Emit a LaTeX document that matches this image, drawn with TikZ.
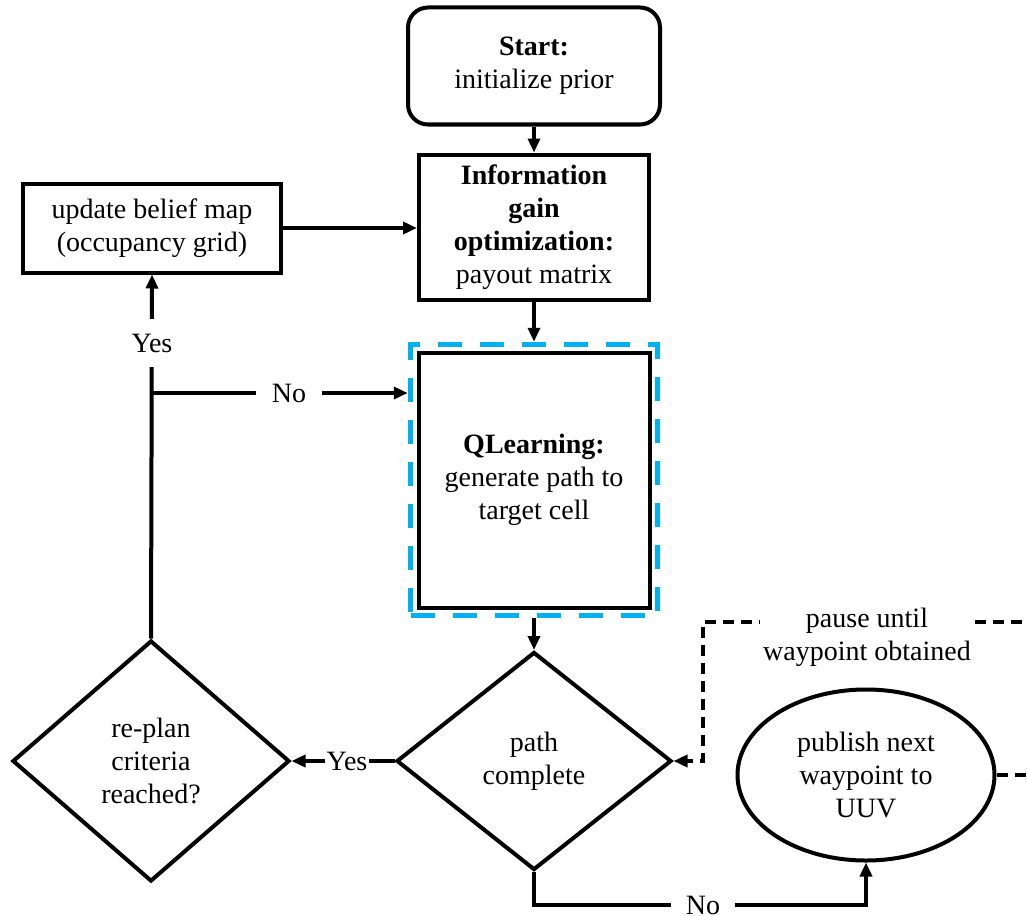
\documentclass[tikz,border=0pt]{standalone}
\usepackage{fontspec}
\setmainfont{Liberation Serif}
\usetikzlibrary{shapes.geometric,arrows.meta,fit}
\definecolor{qblue}{RGB}{0,176,240}
\begin{document}
\begin{tikzpicture}[x=1pt,y=-1pt,
  every node/.style={font=\fontsize{28}{33}\selectfont, align=center, inner sep=0pt},
  boxs/.style={draw, line width=4pt, rectangle},
  dia/.style={draw, line width=4pt, diamond, inner sep=0pt},
  tipa/.style={-{Triangle[length=14pt,width=12pt]}},
  arr/.style={line width=4pt, tipa},
  dsh/.style={line width=4pt, dash pattern=on 11pt off 7pt},
  lbl/.style={fill=white, inner xsep=#1, inner ysep=3pt},
]
\useasboundingbox (0,0) rectangle (1027,915);
\clip (0,0) rectangle (1027,915);

% nodes
\node[boxs, rounded corners=20pt, minimum width=252pt, minimum height=117pt] (start) at (534,66)
  {\textbf{Start:}\\initialize prior};
\node[boxs, minimum width=230pt, minimum height=145pt] (info) at (534,227)
  {\textbf{Information}\\\textbf{gain}\\\textbf{optimization:}\\payout matrix};
\node[boxs, minimum width=258pt, minimum height=89pt] (upd) at (152,228)
  {update belief map\\(occupancy grid)};
\node[boxs, minimum width=231pt, minimum height=255pt] (ql) at (534,480)
  {\textbf{QLearning:}\\generate path to\\target cell};
\node[fit=(ql), inner sep=6pt, draw=qblue, line width=5.5pt, dash pattern=on 24pt off 18pt] (qlb) {};
\node[dia, minimum width=275pt, minimum height=218pt] (pc) at (534,761) {path\\complete};
\node[dia, minimum width=277pt, minimum height=241pt] (rp) at (151,761) {re-plan\\criteria\\reached?};
\node[draw, line width=4pt, ellipse, minimum width=257pt, minimum height=171pt] (el) at (866,775)
  {publish next\\waypoint to\\UUV};

% helper coordinates
\coordinate (jn) at (152,393);
\coordinate (nb1) at (534,905);
\coordinate (nb2) at (866,905);
\coordinate (dr) at (1040,775);
\coordinate (dt1) at (1040,622);
\coordinate (dt2) at (703,622);
\coordinate (dt3) at (703,761);

% connectors
\draw[arr] (start.south) -- (info.north);
\draw[arr] (upd.east) -- (upd.east -| info.west);
\draw[arr] (info.south) -- (qlb.north);
\draw[arr] (qlb.south) -- (pc.north);
\draw[arr] (pc.west) -- (rp.east);
\draw[arr] (rp.north) -- (upd.south);
\draw[arr] (jn) -- (jn -| qlb.west);
\draw[arr] (pc.south) -- (nb1) -- (nb2) -- (el.south);
\draw[dsh] (el.east) -- (dr);
\draw[dsh, tipa] (dt1) -- (dt2) -- (dt3) -- (pc.east);

% labels
\node[lbl=4pt, inner ysep=15pt] (l1) at (152,343) {Yes};
\node[lbl=16pt] (l2) at (289,393) {No};
\node[lbl=2pt] (l3) at (347,761) {Yes};
\node[lbl=15pt] (l4) at (703,905) {No};
\node[fill=white, inner xsep=3pt, inner ysep=2pt] (l5) at (867,637) {pause until\\waypoint obtained};
\end{tikzpicture}
\end{document}
